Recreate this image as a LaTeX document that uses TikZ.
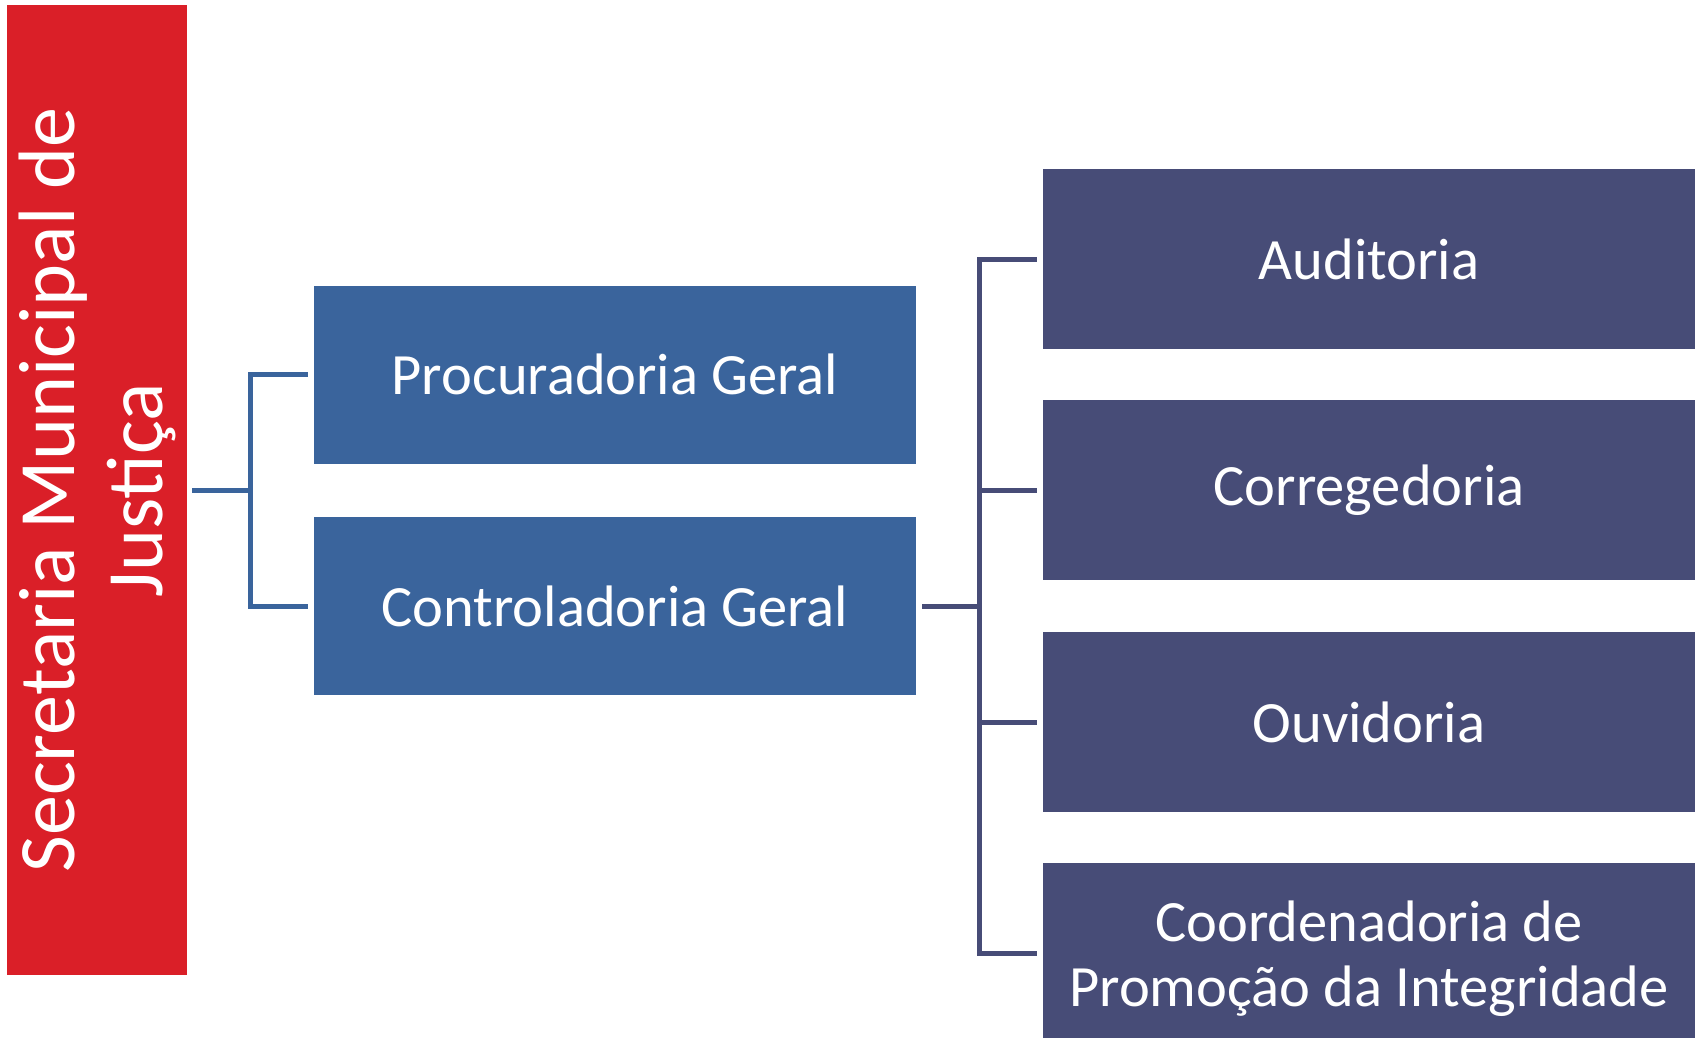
\documentclass[tikz,border=0pt]{standalone}
\usepackage{fontspec}
\setmainfont{Carlito}
\definecolor{secred}{HTML}{DA1F28}
\definecolor{midblue}{HTML}{3A649C}
\definecolor{navy}{HTML}{474C77}
\begin{document}
\begin{tikzpicture}[x=1pt,y=-1pt,
  box/.style={rectangle, inner sep=0pt, text=white, align=center,
    font=\fontsize{58.5}{65}\selectfont},
  midbox/.style={box, fill=midblue, minimum width=602pt, minimum height=178pt},
  navybox/.style={box, fill=navy, minimum width=652pt, minimum height=180pt},
  conn/.style={line width=5pt, line join=miter}]
\useasboundingbox (0,0) rectangle (1699,1038);
\node[box, fill=secred, minimum width=969pt, minimum height=180pt, rotate=90,
  font=\fontsize{80}{88}\selectfont] (sec) at (97,490) {Secretaria Municipal de\\Justiça};
\node[midbox] (proc) at (615,374.5) {Procuradoria Geral};
\node[midbox] (ctrl) at (615,606) {Controladoria Geral};
\node[navybox] (aud) at (1369,259) {Auditoria};
\node[navybox] (corr) at (1369,490) {Corregedoria};
\node[navybox] (ouv) at (1369,722) {Ouvidoria};
\node[navybox] (coord) at (1369,953) {};
\node[box] (coordtext) at ([yshift=-5.5pt]coord.center) {Coordenadoria de\\Promoção da Integridade};
\coordinate (lj) at (250,490);
\coordinate (rj) at (979,606);
\draw[conn, midblue] ([xshift=5pt]sec.south) -- (lj);
\draw[conn, midblue] ([xshift=-6pt]proc.west) -| (lj) |- ([xshift=-6pt]ctrl.west);
\draw[conn, navy] ([xshift=6pt]ctrl.east) -- (rj);
\draw[conn, navy] ([xshift=-6pt]aud.west) -| (rj) |- ([xshift=-6pt]coord.west);
\draw[conn, navy] ([xshift=-6pt]corr.west) -- (corr.west -| rj);
\draw[conn, navy] ([xshift=-6pt]ouv.west) -- (ouv.west -| rj);
\end{tikzpicture}
\end{document}
